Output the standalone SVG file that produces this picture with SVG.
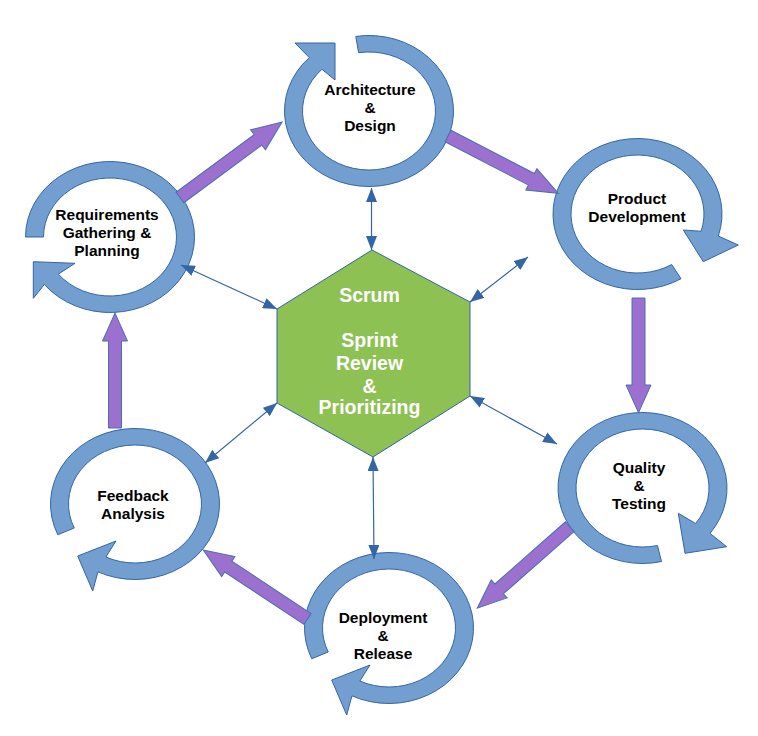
<svg xmlns="http://www.w3.org/2000/svg" width="758" height="736" viewBox="0 0 758 736">
<style>
.ring{fill:#729fcf;stroke:#3465a4;stroke-width:1}
.flow{fill:#9b70cf;stroke:#4a6fb0;stroke-width:1}
.conn{fill:none;stroke:#3465a4;stroke-width:1.2;marker-start:url(#ah);marker-end:url(#ah)}
.lbl{font-family:"Liberation Sans",Arial,sans-serif;font-weight:bold;font-size:15.5px;fill:#000;text-anchor:middle}
.hex{font-family:"Liberation Sans",Arial,sans-serif;font-weight:bold;font-size:19.5px;fill:#fff;text-anchor:middle}
</style>
<defs>
<marker id="ah" markerUnits="userSpaceOnUse" markerWidth="14" markerHeight="11" refX="14" refY="5.5" orient="auto-start-reverse">
<path d="M0,0 L14,5.5 L0,11 z" fill="#3465a4"/>
</marker>
</defs>
<rect width="758" height="736" fill="#fff"/>

<g id="node-architecture">
<path class="ring" d="M355.78 36.43 A84.5 75.5 0 1 1 309.25 57.61 L295 43 L335 43 L335 80 L321.98 69.28 A66.5 59 0 1 0 358.6 52.73 Z"/>
<text class="lbl" x="370" y="95">Architecture</text>
<text class="lbl" x="370" y="113">&amp;</text>
<text class="lbl" x="370" y="131">Design</text>
</g>

<g id="node-product">
<path class="ring" d="M681.02 278.72 A84.5 75.5 0 1 1 718.31 236.07 L738.3 245 L703.3 261.7 L683.3 230 L701.09 231.25 A66.5 59 0 1 0 671.75 264.57 Z"/>
<text class="lbl" x="637" y="204">Product</text>
<text class="lbl" x="637" y="222">Development</text>
</g>

<g id="node-quality">
<path class="ring" d="M661.51 561.57 A84.5 75.5 0 1 1 709.99 533.44 L726.7 546.7 L685 553.3 L678.3 513.3 L695.61 523.51 A66.5 59 0 1 0 657.46 545.49 Z"/>
<text class="lbl" x="639" y="473">Quality</text>
<text class="lbl" x="639" y="491">&amp;</text>
<text class="lbl" x="639" y="509">Testing</text>
</g>

<g id="node-deployment">
<path class="ring" d="M311.81 658.71 A84.5 75.5 0 1 1 351.96 695.86 L346.7 715 L331.7 680 L370 665 L359.85 681.03 A66.5 59 0 1 0 328.25 652 Z"/>
<text class="lbl" x="383" y="623">Deployment</text>
<text class="lbl" x="383" y="641">&amp;</text>
<text class="lbl" x="383" y="659">Release</text>
</g>

<g id="node-feedback">
<path class="ring" d="M57.81 534.71 A84.5 75.5 0 1 1 97.96 571.86 L92.7 591 L77.7 556 L116 541 L105.85 557.03 A66.5 59 0 1 0 74.25 528 Z"/>
<text class="lbl" x="133" y="501">Feedback</text>
<text class="lbl" x="133" y="519">Analysis</text>
</g>

<g id="node-requirements">
<path class="ring" d="M25.5 237 A84.5 75.5 0 1 1 44.33 284.51 L33.3 298.3 L33.3 261.7 L75 263.3 L58.32 274.13 A66.5 59 0 1 0 43.5 237 Z"/>
<text class="lbl" x="107" y="220">Requirements</text>
<text class="lbl" x="107" y="238">Gathering &amp;</text>
<text class="lbl" x="107" y="256">Planning</text>
</g>

<g id="flow-arrows">
<polygon class="flow" transform="translate(180,197.5) rotate(-36.5)" points="0,-6.5 97,-6.5 97,-12.5 127,0 97,12.5 97,6.5 0,6.5"/>
<polygon class="flow" transform="translate(448,136) rotate(27.45)" points="0,-6.5 94,-6.5 94,-12 124.3,0 94,12 94,6.5 0,6.5"/>
<polygon class="flow" transform="translate(638.5,298) rotate(90)" points="0,-6.5 87,-6.5 87,-12.5 114.7,0 87,12.5 87,6.5 0,6.5"/>
<polygon class="flow" transform="translate(569.7,526.7) rotate(138.6)" points="0,-6.5 94,-6.5 94,-12 123.3,0 94,12 94,6.5 0,6.5"/>
<polygon class="flow" transform="translate(307.5,619) rotate(-146.5)" points="0,-6.5 95,-6.5 95,-12 125,0 95,12 95,6.5 0,6.5"/>
<polygon class="flow" transform="translate(115,428) rotate(-90)" points="0,-6.5 87,-6.5 87,-12.5 115,0 87,12.5 87,6.5 0,6.5"/>
</g>

<g id="node-scrum">
<polygon points="372,250 470,302 470,396 373,457 277,403 277,309" fill="#8dc153" stroke="#3465a4" stroke-width="1"/>
<text class="hex" x="369.5" y="302">Scrum</text>
<text class="hex" x="369.5" y="347">Sprint</text>
<text class="hex" x="369.5" y="370">Review</text>
<text class="hex" x="369.5" y="393">&amp;</text>
<text class="hex" x="369.5" y="414">Prioritizing</text>
</g>

<g id="connectors">
<line class="conn" x1="371.5" y1="188" x2="371.5" y2="250"/>
<line class="conn" x1="470" y1="302" x2="528" y2="257"/>
<line class="conn" x1="470" y1="396" x2="557" y2="444"/>
<line class="conn" x1="373" y1="457" x2="374" y2="559"/>
<line class="conn" x1="277" y1="403" x2="205" y2="463"/>
<line class="conn" x1="277" y1="309" x2="181" y2="265"/>
</g>
</svg>
